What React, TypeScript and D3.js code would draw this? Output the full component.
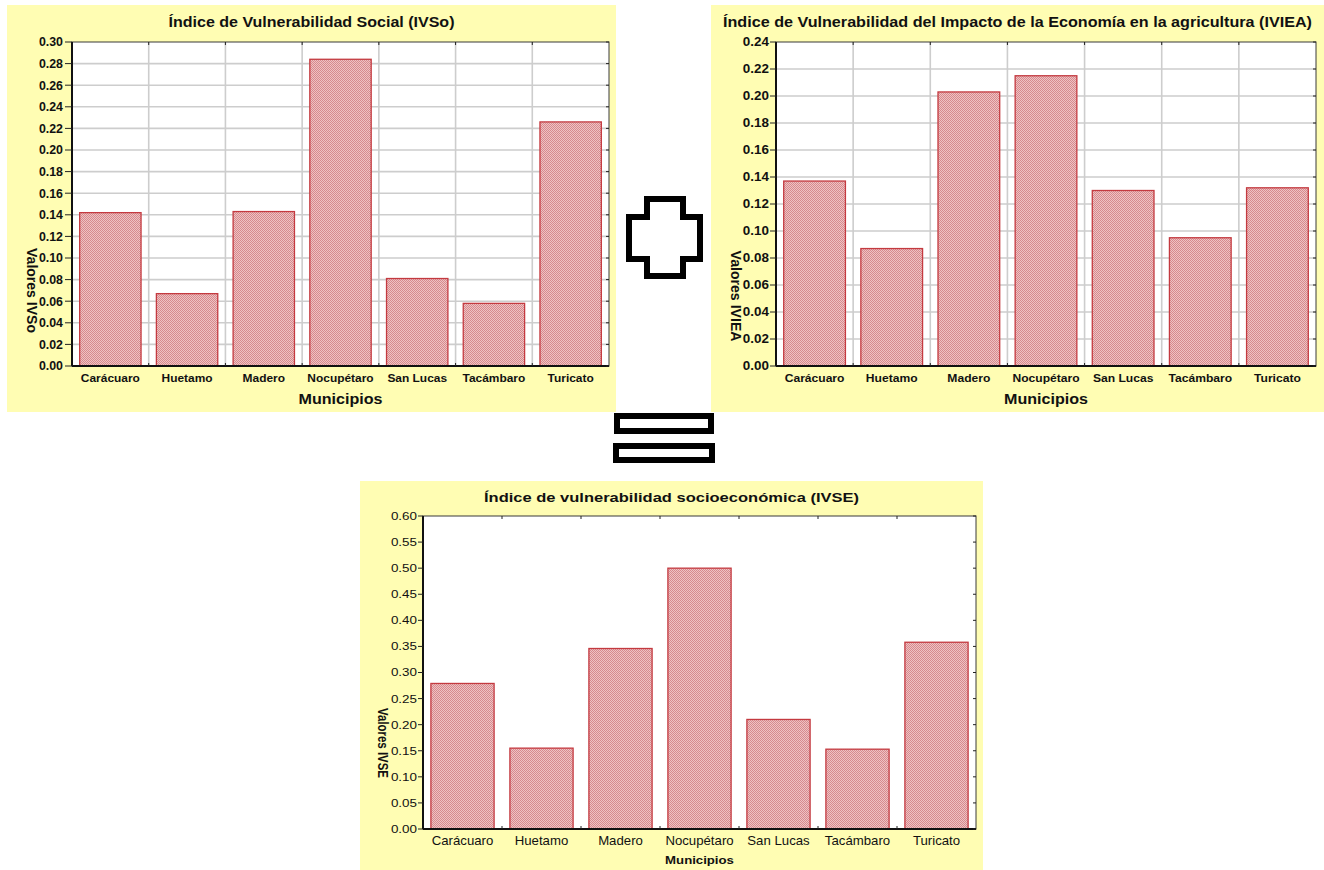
import React from "react";
import * as d3 from "d3";

const categories = ["Carácuaro", "Huetamo", "Madero", "Nocupétaro", "San Lucas", "Tacámbaro", "Turicato"];
const ivsoValues = [0.142, 0.067, 0.143, 0.284, 0.081, 0.058, 0.226];
const ivieaValues = [0.137, 0.087, 0.203, 0.215, 0.130, 0.095, 0.132];
const ivseValues = [0.279, 0.155, 0.346, 0.500, 0.210, 0.153, 0.358];

const ivsoTicks = [0, 0.02, 0.04, 0.06, 0.08, 0.10, 0.12, 0.14, 0.16, 0.18, 0.20, 0.22, 0.24, 0.26, 0.28, 0.30];
const ivieaTicks = [0, 0.02, 0.04, 0.06, 0.08, 0.10, 0.12, 0.14, 0.16, 0.18, 0.20, 0.22, 0.24];
const ivseTicks = [0, 0.05, 0.10, 0.15, 0.20, 0.25, 0.30, 0.35, 0.40, 0.45, 0.50, 0.55, 0.60];

const FONT = "'Liberation Sans', Arial, Helvetica, sans-serif";
const YELLOW = "#fffdb3";
const BAR_STROKE = "#c43a40";

type TxtProps = {
  x: number; y: number; size: number; bold?: boolean; sx?: number;
  anchor?: "start" | "middle" | "end"; rotate?: number; len?: number; children: React.ReactNode;
};
function Txt({ x, y, size, bold, sx = 1, anchor = "middle", rotate = 0, len, children }: TxtProps) {
  const tr = `translate(${x},${y}) scale(${sx},1)` + (rotate ? ` rotate(${rotate})` : "");
  return (
    <text transform={tr} fontSize={size} fontWeight={bold ? "bold" : "normal"} textAnchor={anchor}
      fontFamily={FONT} fill="#111" textLength={len} lengthAdjust={len ? "spacingAndGlyphs" : undefined}>
      {children}
    </text>
  );
}

type Cfg = {
  panel: { x: number; y: number; w: number; h: number };
  plot: { x0: number; x1: number; y0: number; y1: number };
  values: number[]; ticks: number[]; tickFmt: (v: number) => string;
  title: string; titleY: number; titleSize: number; titleLen: number;
  yLabel: string; yLabelX: number; yLabelY: number; yLabelSize: number; yLabelSx: number; yLabelLen: number;
  yTickSize: number; yTickBold: boolean; yTickSx: number; yTickGap: number; yTickLen: number;
  xTickY: number; xTickSize: number; xTickBold: boolean; xTickSx: number;
  xTitleY: number; xTitleSize: number; xTitleSx: number;
  grid: boolean;
};

function Chart({ c }: { c: Cfg }) {
  const { plot } = c;
  const x = d3.scaleBand<string>().domain(categories).range([plot.x0, plot.x1]).paddingInner(0.2).paddingOuter(0.1);
  const y = d3.scaleLinear().domain([0, c.ticks[c.ticks.length - 1]]).range([plot.y1, plot.y0]);
  const step = x.step();
  const bounds = categories.slice(1).map((_, i) => plot.x0 + (i + 1) * step);
  const cx = (plot.x0 + plot.x1) / 2;
  const panelCx = c.panel.x + c.panel.w / 2;
  return (
    <g>
      <rect x={c.panel.x} y={c.panel.y} width={c.panel.w} height={c.panel.h} fill={YELLOW} />
      <rect x={plot.x0} y={plot.y0} width={plot.x1 - plot.x0} height={plot.y1 - plot.y0} fill="#fff" />
      {c.grid && (
        <g stroke="#cdcdcd" strokeWidth={1.6}>
          {c.ticks.slice(1, -1).map((t) => (
            <line key={"h" + t} x1={plot.x0} x2={plot.x1} y1={y(t)} y2={y(t)} />
          ))}
          {bounds.map((b) => (
            <line key={"v" + b} x1={b} x2={b} y1={plot.y0} y2={plot.y1} />
          ))}
        </g>
      )}
      {categories.map((cat, i) => (
        <rect key={cat} x={x(cat)} y={y(c.values[i])} width={x.bandwidth()} height={y(0) - y(c.values[i])}
          fill="url(#hatch)" stroke={BAR_STROKE} strokeWidth={1.3} />
      ))}
      <rect x={plot.x0} y={plot.y0} width={plot.x1 - plot.x0} height={plot.y1 - plot.y0} fill="none" stroke="#3a3a3a" strokeWidth={1} />
      <line x1={plot.x0} x2={plot.x0} y1={plot.y0} y2={plot.y1} stroke="#111" strokeWidth={2} />
      <line x1={plot.x0} x2={plot.x1} y1={plot.y1} y2={plot.y1} stroke="#111" strokeWidth={2} />
      <g stroke="#222" strokeWidth={1}>
        {c.ticks.map((t) => (
          <line key={"lt" + t} x1={plot.x0 - c.yTickLen} x2={plot.x0} y1={y(t)} y2={y(t)} />
        ))}
        {c.ticks.map((t) => (
          <line key={"rt" + t} x1={plot.x1 - 3} x2={plot.x1} y1={y(t)} y2={y(t)} />
        ))}
        {bounds.map((b) => (
          <line key={"tt" + b} x1={b} x2={b} y1={plot.y0} y2={plot.y0 + 3} />
        ))}
        {bounds.map((b) => (
          <line key={"bt" + b} x1={b} x2={b} y1={plot.y1 - 3} y2={plot.y1} />
        ))}
      </g>
      {c.ticks.map((t) => (
        <Txt key={"yl" + t} x={plot.x0 - c.yTickGap} y={y(t) + c.yTickSize * 0.36} size={c.yTickSize}
          bold={c.yTickBold} sx={c.yTickSx} anchor="end">{c.tickFmt(t)}</Txt>
      ))}
      {categories.map((cat) => (
        <Txt key={"xl" + cat} x={(x(cat) as number) + x.bandwidth() / 2} y={c.xTickY} size={c.xTickSize}
          bold={c.xTickBold} sx={c.xTickSx}>{cat}</Txt>
      ))}
      <Txt x={panelCx} y={c.titleY} size={c.titleSize} bold len={c.titleLen}>{c.title}</Txt>
      <Txt x={cx} y={c.xTitleY} size={c.xTitleSize} bold sx={c.xTitleSx}>Municipios</Txt>
      <Txt x={c.yLabelX} y={c.yLabelY} size={c.yLabelSize} bold sx={c.yLabelSx} rotate={90} len={c.yLabelLen}>{c.yLabel}</Txt>
    </g>
  );
}

const fmt2 = d3.format(".2f");

const chart1: Cfg = {
  panel: { x: 7, y: 5, w: 609, h: 407 },
  plot: { x0: 72, x1: 609, y0: 42, y1: 366 },
  values: ivsoValues, ticks: ivsoTicks, tickFmt: fmt2,
  title: "Índice de Vulnerabilidad Social (IVSo)", titleY: 27, titleSize: 14, titleLen: 286,
  yLabel: "Valores IVSo", yLabelX: 27, yLabelY: 290.5, yLabelSize: 14, yLabelSx: 1, yLabelLen: 85,
  yTickSize: 12, yTickBold: true, yTickSx: 1.03, yTickGap: 9, yTickLen: 7,
  xTickY: 382, xTickSize: 11, xTickBold: true, xTickSx: 1.085,
  xTitleY: 404, xTitleSize: 14, xTitleSx: 1.15,
  grid: true,
};

const chart2: Cfg = {
  panel: { x: 711, y: 5, w: 613, h: 407 },
  plot: { x0: 776, x1: 1316, y0: 42, y1: 366 },
  values: ivieaValues, ticks: ivieaTicks, tickFmt: fmt2,
  title: "Índice de Vulnerabilidad del Impacto de la Economía en la agricultura (IVIEA)", titleY: 27, titleSize: 14, titleLen: 589,
  yLabel: "Valores IVIEA", yLabelX: 731, yLabelY: 296, yLabelSize: 14, yLabelSx: 1, yLabelLen: 91,
  yTickSize: 12, yTickBold: true, yTickSx: 1.12, yTickGap: 7, yTickLen: 6,
  xTickY: 382, xTickSize: 11, xTickBold: true, xTickSx: 1.1,
  xTitleY: 404, xTitleSize: 14, xTitleSx: 1.15,
  grid: true,
};

const chart3: Cfg = {
  panel: { x: 360, y: 481, w: 623, h: 389 },
  plot: { x0: 423, x1: 976, y0: 516, y1: 829 },
  values: ivseValues, ticks: ivseTicks, tickFmt: fmt2,
  title: "Índice de vulnerabilidad socioeconómica (IVSE)", titleY: 502, titleSize: 13.5, titleLen: 375,
  yLabel: "Valores IVSE", yLabelX: 378, yLabelY: 743, yLabelSize: 11, yLabelSx: 1.3, yLabelLen: 70,
  yTickSize: 11, yTickBold: false, yTickSx: 1.22, yTickGap: 6, yTickLen: 5,
  xTickY: 845, xTickSize: 12, xTickBold: false, xTickSx: 1.1,
  xTitleY: 864, xTitleSize: 11, xTitleSx: 1.2,
  grid: false,
};

export default function App() {
  return (
    <svg width={1324} height={870} viewBox="0 0 1324 870"
      style={{ position: "absolute", left: 0, top: 0, background: "#fff" }}>
      <defs>
        <pattern id="hatch" width={2} height={2} patternUnits="userSpaceOnUse">
          <rect width={2} height={2} fill="#efc2c3" />
          <rect width={1} height={1} fill="#d68a8e" />
          <rect x={1} y={1} width={1} height={1} fill="#d68a8e" />
        </pattern>
      </defs>
      <Chart c={chart1} />
      <Chart c={chart2} />
      <Chart c={chart3} />
      {/* plus sign */}
      <path d="M647,199 L683,199 L683,217 L700,217 L700,259 L683,259 L683,276 L647,276 L647,259 L629,259 L629,217 L647,217 Z"
        fill="#fff" stroke="#000" strokeWidth={6} strokeLinejoin="miter" />
      {/* equals sign */}
      <rect x={617} y={416} width={94} height={15} fill="#fff" stroke="#000" strokeWidth={6} />
      <rect x={616} y={446} width={96} height={14} fill="#fff" stroke="#000" strokeWidth={6} />
    </svg>
  );
}
